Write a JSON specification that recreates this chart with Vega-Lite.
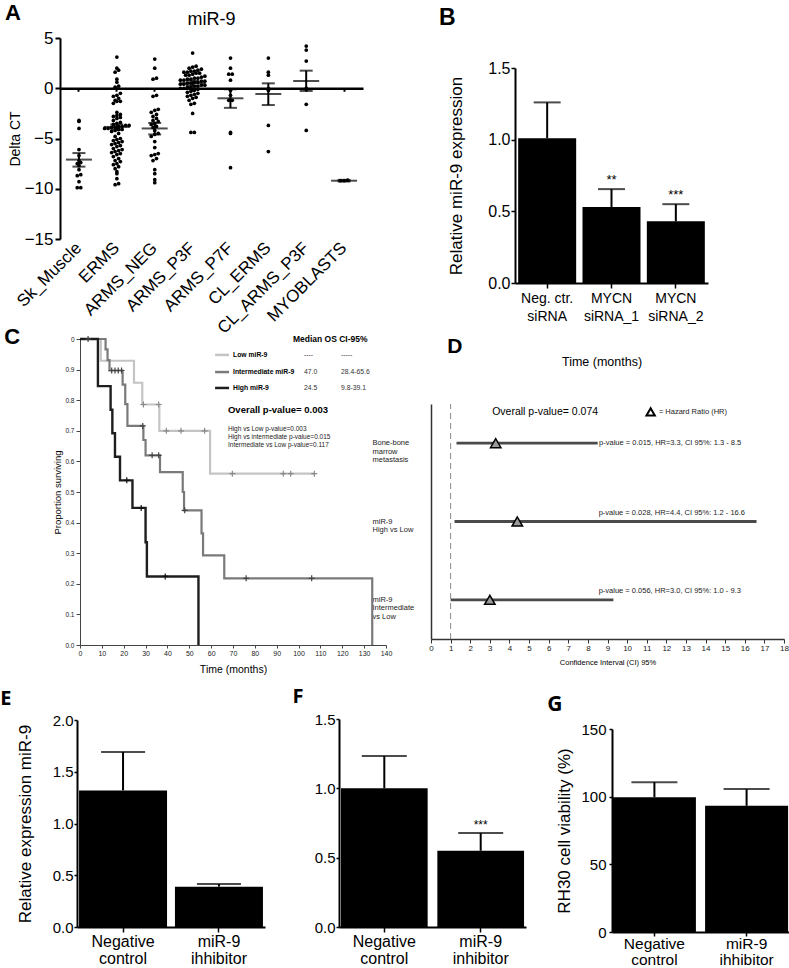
{
"$schema":"https://vega.github.io/schema/vega-lite/v6.json",
"width":789,"height":968,"autosize":{"type":"none"},"padding":0,"background":"white",
"config":{"view":{"stroke":null},"font":"Liberation Sans",
 "axis":{"grid":false,"domainColor":"black","tickColor":"black","labelColor":"black","titleColor":"black","labelFont":"Liberation Sans","titleFont":"Liberation Sans","titleFontWeight":"normal","labelOverlap":false,"labelFlush":false},
 "text":{"font":"Liberation Sans","color":"black"}},
"resolve":{"scale":{"x":"independent","y":"independent","color":"independent"},"axis":{"x":"independent","y":"independent"}},
"datasets":{
 "pointsA":[
  {"g":"Sk_Muscle","v":-3.2},{"g":"Sk_Muscle","v":-3.3},{"g":"Sk_Muscle","v":-4.0},{"g":"Sk_Muscle","v":-6.1},{"g":"Sk_Muscle","v":-6.7},{"g":"Sk_Muscle","v":-7.2},{"g":"Sk_Muscle","v":-7.4},{"g":"Sk_Muscle","v":-7.5},{"g":"Sk_Muscle","v":-7.7},{"g":"Sk_Muscle","v":-8.1},{"g":"Sk_Muscle","v":-8.6},{"g":"Sk_Muscle","v":-8.7},{"g":"Sk_Muscle","v":-9.3},{"g":"Sk_Muscle","v":-9.9},{"g":"Sk_Muscle","v":-9.9},
  {"g":"ERMS","v":3.1},{"g":"ERMS","v":2.0},{"g":"ERMS","v":1.8},{"g":"ERMS","v":1.6},{"g":"ERMS","v":0.9},{"g":"ERMS","v":0.6},{"g":"ERMS","v":0.2},{"g":"ERMS","v":0.1},{"g":"ERMS","v":-0.5},{"g":"ERMS","v":-0.7},{"g":"ERMS","v":-0.8},{"g":"ERMS","v":-1.0},{"g":"ERMS","v":-1.2},{"g":"ERMS","v":-1.3},{"g":"ERMS","v":-1.3},{"g":"ERMS","v":-1.5},{"g":"ERMS","v":-2.4},{"g":"ERMS","v":-2.6},{"g":"ERMS","v":-2.7},{"g":"ERMS","v":-2.8},{"g":"ERMS","v":-2.9},{"g":"ERMS","v":-3.0},{"g":"ERMS","v":-3.2},{"g":"ERMS","v":-3.4},{"g":"ERMS","v":-3.5},{"g":"ERMS","v":-3.6},{"g":"ERMS","v":-3.7},{"g":"ERMS","v":-3.7},{"g":"ERMS","v":-3.8},{"g":"ERMS","v":-3.8},{"g":"ERMS","v":-3.9},{"g":"ERMS","v":-3.9},{"g":"ERMS","v":-4.0},{"g":"ERMS","v":-4.0},{"g":"ERMS","v":-4.1},{"g":"ERMS","v":-4.1},{"g":"ERMS","v":-4.2},{"g":"ERMS","v":-4.3},{"g":"ERMS","v":-4.5},{"g":"ERMS","v":-4.8},{"g":"ERMS","v":-5.0},{"g":"ERMS","v":-5.1},{"g":"ERMS","v":-5.2},{"g":"ERMS","v":-5.3},{"g":"ERMS","v":-5.4},{"g":"ERMS","v":-5.5},{"g":"ERMS","v":-5.6},{"g":"ERMS","v":-5.7},{"g":"ERMS","v":-5.8},{"g":"ERMS","v":-6.0},{"g":"ERMS","v":-6.1},{"g":"ERMS","v":-6.2},{"g":"ERMS","v":-6.3},{"g":"ERMS","v":-6.4},{"g":"ERMS","v":-6.5},{"g":"ERMS","v":-6.6},{"g":"ERMS","v":-6.8},{"g":"ERMS","v":-7.0},{"g":"ERMS","v":-7.2},{"g":"ERMS","v":-7.3},{"g":"ERMS","v":-7.5},{"g":"ERMS","v":-7.6},{"g":"ERMS","v":-7.8},{"g":"ERMS","v":-8.0},{"g":"ERMS","v":-8.3},{"g":"ERMS","v":-8.5},{"g":"ERMS","v":-9.0},{"g":"ERMS","v":-9.5},{"g":"ERMS","v":-9.6},
  {"g":"ARMS_NEG","v":2.9},{"g":"ARMS_NEG","v":2.0},{"g":"ARMS_NEG","v":1.0},{"g":"ARMS_NEG","v":0.9},{"g":"ARMS_NEG","v":-0.7},{"g":"ARMS_NEG","v":-0.8},{"g":"ARMS_NEG","v":-2.1},{"g":"ARMS_NEG","v":-2.2},{"g":"ARMS_NEG","v":-2.4},{"g":"ARMS_NEG","v":-2.6},{"g":"ARMS_NEG","v":-2.8},{"g":"ARMS_NEG","v":-3.0},{"g":"ARMS_NEG","v":-3.2},{"g":"ARMS_NEG","v":-3.3},{"g":"ARMS_NEG","v":-3.5},{"g":"ARMS_NEG","v":-3.6},{"g":"ARMS_NEG","v":-3.8},{"g":"ARMS_NEG","v":-3.9},{"g":"ARMS_NEG","v":-4.2},{"g":"ARMS_NEG","v":-4.5},{"g":"ARMS_NEG","v":-4.6},{"g":"ARMS_NEG","v":-4.8},{"g":"ARMS_NEG","v":-5.3},{"g":"ARMS_NEG","v":-5.9},{"g":"ARMS_NEG","v":-6.5},{"g":"ARMS_NEG","v":-6.6},{"g":"ARMS_NEG","v":-6.7},{"g":"ARMS_NEG","v":-7.0},{"g":"ARMS_NEG","v":-7.2},{"g":"ARMS_NEG","v":-8.1},{"g":"ARMS_NEG","v":-8.5},{"g":"ARMS_NEG","v":-9.1},{"g":"ARMS_NEG","v":-9.4},
  {"g":"ARMS_P3F","v":3.5},{"g":"ARMS_P3F","v":2.2},{"g":"ARMS_P3F","v":2.1},{"g":"ARMS_P3F","v":2.0},{"g":"ARMS_P3F","v":1.9},{"g":"ARMS_P3F","v":1.8},{"g":"ARMS_P3F","v":1.7},{"g":"ARMS_P3F","v":1.7},{"g":"ARMS_P3F","v":1.6},{"g":"ARMS_P3F","v":1.6},{"g":"ARMS_P3F","v":1.5},{"g":"ARMS_P3F","v":1.5},{"g":"ARMS_P3F","v":1.4},{"g":"ARMS_P3F","v":1.3},{"g":"ARMS_P3F","v":1.3},{"g":"ARMS_P3F","v":1.2},{"g":"ARMS_P3F","v":1.1},{"g":"ARMS_P3F","v":1.0},{"g":"ARMS_P3F","v":1.0},{"g":"ARMS_P3F","v":0.9},{"g":"ARMS_P3F","v":0.9},{"g":"ARMS_P3F","v":0.8},{"g":"ARMS_P3F","v":0.8},{"g":"ARMS_P3F","v":0.7},{"g":"ARMS_P3F","v":0.7},{"g":"ARMS_P3F","v":0.6},{"g":"ARMS_P3F","v":0.6},{"g":"ARMS_P3F","v":0.5},{"g":"ARMS_P3F","v":0.5},{"g":"ARMS_P3F","v":0.4},{"g":"ARMS_P3F","v":0.4},{"g":"ARMS_P3F","v":0.3},{"g":"ARMS_P3F","v":0.3},{"g":"ARMS_P3F","v":0.2},{"g":"ARMS_P3F","v":0.2},{"g":"ARMS_P3F","v":0.1},{"g":"ARMS_P3F","v":0.1},{"g":"ARMS_P3F","v":0.0},{"g":"ARMS_P3F","v":0.0},{"g":"ARMS_P3F","v":-0.1},{"g":"ARMS_P3F","v":-0.2},{"g":"ARMS_P3F","v":-0.3},{"g":"ARMS_P3F","v":-0.4},{"g":"ARMS_P3F","v":-0.5},{"g":"ARMS_P3F","v":-0.6},{"g":"ARMS_P3F","v":-0.7},{"g":"ARMS_P3F","v":-0.8},{"g":"ARMS_P3F","v":-0.9},{"g":"ARMS_P3F","v":-1.0},{"g":"ARMS_P3F","v":-1.2},{"g":"ARMS_P3F","v":-1.5},{"g":"ARMS_P3F","v":-1.6},{"g":"ARMS_P3F","v":-2.5},{"g":"ARMS_P3F","v":-4.4},{"g":"ARMS_P3F","v":-4.4},
  {"g":"ARMS_P7F","v":3.0},{"g":"ARMS_P7F","v":2.0},{"g":"ARMS_P7F","v":1.4},{"g":"ARMS_P7F","v":1.4},{"g":"ARMS_P7F","v":0.8},{"g":"ARMS_P7F","v":-0.2},{"g":"ARMS_P7F","v":-0.7},{"g":"ARMS_P7F","v":-1.2},{"g":"ARMS_P7F","v":-1.2},{"g":"ARMS_P7F","v":-4.4},{"g":"ARMS_P7F","v":-4.5},{"g":"ARMS_P7F","v":-7.9},
  {"g":"CL_ERMS","v":3.0},{"g":"CL_ERMS","v":1.6},{"g":"CL_ERMS","v":1.3},{"g":"CL_ERMS","v":0.0},{"g":"CL_ERMS","v":-0.2},{"g":"CL_ERMS","v":-3.7},{"g":"CL_ERMS","v":-6.3},
  {"g":"CL_ARMS_P3F","v":4.2},{"g":"CL_ARMS_P3F","v":3.8},{"g":"CL_ARMS_P3F","v":2.7},{"g":"CL_ARMS_P3F","v":0.0},{"g":"CL_ARMS_P3F","v":-0.1},{"g":"CL_ARMS_P3F","v":-1.6},{"g":"CL_ARMS_P3F","v":-4.2},
  {"g":"MYOBLASTS","v":-9.2},{"g":"MYOBLASTS","v":-9.2},{"g":"MYOBLASTS","v":-9.15}
 ],
 "summA":[
  {"g":"Sk_Muscle","m":-7.1,"lo":-7.8,"hi":-6.45},
  {"g":"ERMS","m":-3.85,"lo":-4.1,"hi":-3.6},
  {"g":"ARMS_NEG","m":-4.0,"lo":-4.6,"hi":-3.45},
  {"g":"ARMS_P3F","m":0.5,"lo":0.25,"hi":0.75},
  {"g":"ARMS_P7F","m":-1.0,"lo":-1.95,"hi":-0.1},
  {"g":"CL_ERMS","m":-0.57,"lo":-1.67,"hi":0.49},
  {"g":"CL_ARMS_P3F","m":0.72,"lo":-0.27,"hi":1.75},
  {"g":"MYOBLASTS","m":-9.2,"lo":-9.28,"hi":-9.12}
 ],
 "barsB":[
  {"g":"Neg. ctr.|siRNA","v":1.01,"e":1.26,"s":""},
  {"g":"MYCN|siRNA_1","v":0.53,"e":0.655,"s":"**"},
  {"g":"MYCN|siRNA_2","v":0.43,"e":0.55,"s":"***"}
 ],
 "km":[
  {"grp":"Low","t":0,"s":1},{"grp":"Low","t":9.5,"s":0.929},{"grp":"Low","t":24.7,"s":0.857},{"grp":"Low","t":28.5,"s":0.786},{"grp":"Low","t":36.3,"s":0.7},{"grp":"Low","t":59.5,"s":0.56},{"grp":"Low","t":107.2,"s":0.56},
  {"grp":"Intermediate","t":0,"s":1},{"grp":"Intermediate","t":11.7,"s":0.966},{"grp":"Intermediate","t":12.6,"s":0.931},{"grp":"Intermediate","t":13.5,"s":0.897},{"grp":"Intermediate","t":19.5,"s":0.851},{"grp":"Intermediate","t":20.7,"s":0.787},{"grp":"Intermediate","t":21.7,"s":0.716},{"grp":"Intermediate","t":29,"s":0.67},{"grp":"Intermediate","t":30,"s":0.62},{"grp":"Intermediate","t":36.6,"s":0.565},{"grp":"Intermediate","t":47,"s":0.5},{"grp":"Intermediate","t":47.6,"s":0.44},{"grp":"Intermediate","t":55.6,"s":0.365},{"grp":"Intermediate","t":56.3,"s":0.293},{"grp":"Intermediate","t":66,"s":0.218},{"grp":"Intermediate","t":133.7,"s":0},
  {"grp":"High","t":0,"s":1},{"grp":"High","t":8.2,"s":0.846},{"grp":"High","t":14,"s":0.769},{"grp":"High","t":14.8,"s":0.692},{"grp":"High","t":16,"s":0.615},{"grp":"High","t":18.3,"s":0.538},{"grp":"High","t":24,"s":0.448},{"grp":"High","t":30,"s":0.336},{"grp":"High","t":30.6,"s":0.224},{"grp":"High","t":54.2,"s":0}
 ],
 "cens":[
  {"grp":"Low","t":29,"s":0.786},{"grp":"Low","t":36,"s":0.786},{"grp":"Low","t":39.5,"s":0.7},{"grp":"Low","t":46.2,"s":0.7},{"grp":"Low","t":57,"s":0.7},{"grp":"Low","t":69.7,"s":0.56},{"grp":"Low","t":93,"s":0.56},{"grp":"Low","t":96.4,"s":0.56},{"grp":"Low","t":107.2,"s":0.56},
  {"grp":"Intermediate","t":3.7,"s":1},{"grp":"Intermediate","t":14.5,"s":0.897},{"grp":"Intermediate","t":16,"s":0.897},{"grp":"Intermediate","t":17.5,"s":0.897},{"grp":"Intermediate","t":19,"s":0.897},{"grp":"Intermediate","t":28.7,"s":0.716},{"grp":"Intermediate","t":33,"s":0.62},{"grp":"Intermediate","t":36,"s":0.62},{"grp":"Intermediate","t":47.9,"s":0.44},{"grp":"Intermediate","t":76,"s":0.218},{"grp":"Intermediate","t":106,"s":0.218},
  {"grp":"High","t":21.4,"s":0.538},{"grp":"High","t":28,"s":0.448},{"grp":"High","t":39,"s":0.224}
 ],
 "legC":[
  {"grp":"Low","lab":"Low miR-9","med":"----","ci":"-----","t1":61.8,"t2":68.2,"s":0.948},
  {"grp":"Intermediate","lab":"Intermediate miR-9","med":"47.0","ci":"28.4-65.6","t1":61.8,"t2":68.2,"s":0.892},
  {"grp":"High","lab":"High miR-9","med":"24.5","ci":"9.8-39.1","t1":61.8,"t2":68.2,"s":0.84}
 ],
 "pC":[
  {"txt":"High vs Low p-value=0.003","s":0.706},
  {"txt":"High vs intermediate p-value=0.015","s":0.68},
  {"txt":"Intermediate vs Low p-value=0.117","s":0.654}
 ],
 "forest":[
  {"row":"Bone-bone|marrow|metastasis","lo":1.3,"hi":8.5,"hr":3.3,"txt":"p-value = 0.015, HR=3.3, CI 95%: 1.3 - 8.5"},
  {"row":"miR-9|High vs Low","lo":1.2,"hi":16.6,"hr":4.4,"txt":"p-value = 0.028, HR=4.4, CI 95%: 1.2 - 16.6"},
  {"row":"miR-9|Intermediate|vs Low","lo":1.0,"hi":9.3,"hr":3.0,"txt":"p-value = 0.056, HR=3.0, CI 95%: 1.0 - 9.3"}
 ],
 "barsE":[{"g":"Negative|control","v":1.32,"e":1.69},{"g":"miR-9|ihhibitor","v":0.39,"e":0.415}],
 "barsF":[{"g":"Negative|control","v":1.0,"e":1.234,"s":""},{"g":"miR-9|inhibitor","v":0.55,"e":0.677,"s":"***"}],
 "barsG":[{"g":"Negative|control","v":99.6,"e":110.7},{"g":"miR-9|ihhibitor","v":93.2,"e":105.6}]
},
"layer":[
 {"data":{"name":"pointsA"},
  "transform":[{"calculate":"floor(datum.v/0.4)","as":"b"},{"window":[{"op":"row_number","as":"r"}],"groupby":["g","b"],"sort":[{"field":"v","order":"ascending"}]},{"joinaggregate":[{"op":"count","as":"n"}],"groupby":["g","b"]},{"calculate":"datum.r-(datum.n+1)/2","as":"off"}],
  "mark":{"type":"circle","size":14,"color":"black","opacity":1},
  "encoding":{
   "x":{"field":"g","type":"nominal","scale":{"type":"band","domain":["Sk_Muscle","ERMS","ARMS_NEG","ARMS_P3F","ARMS_P7F","CL_ERMS","CL_ARMS_P3F","MYOBLASTS"],"range":[60,363],"paddingInner":0,"paddingOuter":0},
        "axis":{"orient":"bottom","offset":-729,"domain":false,"ticks":false,"labelAngle":-45,"labelAlign":"right","labelBaseline":"middle","labelFontSize":17,"labelPadding":6,"title":null}},
   "xOffset":{"field":"off","type":"quantitative","scale":{"domain":[-6,6],"range":[-2,40]}},
   "y":{"field":"v","type":"quantitative","scale":{"domain":[-15,5],"range":[239,38],"nice":false,"zero":false},
        "axis":{"orient":"left","offset":-60,"values":[5,0,-5,-10,-15],"labelFontSize":17,"tickSize":5,"tickWidth":2,"domainWidth":2,"labelPadding":2,"title":"Delta CT","titleFontSize":14,"titlePadding":2}}}},
 {"data":{"name":"summA"},
  "mark":{"type":"rule","strokeWidth":2,"color":"black"},
  "encoding":{
   "x":{"field":"g","type":"nominal","scale":{"type":"band","domain":["Sk_Muscle","ERMS","ARMS_NEG","ARMS_P3F","ARMS_P7F","CL_ERMS","CL_ARMS_P3F","MYOBLASTS"],"range":[60,363],"paddingInner":0,"paddingOuter":0},"axis":null},
   "y":{"field":"lo","type":"quantitative","scale":{"domain":[-15,5],"range":[239,38],"nice":false,"zero":false},"axis":null},
   "y2":{"field":"hi"}}},
 {"data":{"name":"summA"},
  "transform":[{"fold":["lo","hi"],"as":["k","cv"]}],
  "mark":{"type":"tick","size":13,"thickness":2,"color":"black"},
  "encoding":{
   "x":{"field":"g","type":"nominal","scale":{"type":"band","domain":["Sk_Muscle","ERMS","ARMS_NEG","ARMS_P3F","ARMS_P7F","CL_ERMS","CL_ARMS_P3F","MYOBLASTS"],"range":[60,363],"paddingInner":0,"paddingOuter":0},"axis":null},
   "y":{"field":"cv","type":"quantitative","scale":{"domain":[-15,5],"range":[239,38],"nice":false,"zero":false},"axis":null}}},
 {"data":{"name":"summA"},
  "mark":{"type":"tick","size":26,"thickness":2,"color":"black"},
  "encoding":{
   "x":{"field":"g","type":"nominal","scale":{"type":"band","domain":["Sk_Muscle","ERMS","ARMS_NEG","ARMS_P3F","ARMS_P7F","CL_ERMS","CL_ARMS_P3F","MYOBLASTS"],"range":[60,363],"paddingInner":0,"paddingOuter":0},
        "axis":{"orient":"bottom","offset":-879.75,"domain":true,"domainWidth":2.5,"ticks":true,"tickSize":3,"tickWidth":2,"labels":false,"title":null}},
   "y":{"field":"m","type":"quantitative","scale":{"domain":[-15,5],"range":[239,38],"nice":false,"zero":false},"axis":null}}},
 {"data":{"values":[{"t":"miR-9"}]},
  "mark":{"type":"text","fontSize":18,"align":"center","baseline":"middle"},
  "encoding":{
   "x":{"datum":"ARMS_P3F","type":"nominal","bandPosition":1,"scale":{"type":"band","domain":["Sk_Muscle","ERMS","ARMS_NEG","ARMS_P3F","ARMS_P7F","CL_ERMS","CL_ARMS_P3F","MYOBLASTS"],"range":[60,363],"paddingInner":0,"paddingOuter":0},"axis":null},
   "y":{"datum":6.8,"type":"quantitative","scale":{"domain":[-15,5],"range":[239,38],"nice":false,"zero":false},"axis":null},
   "text":{"field":"t"}}},
 {"data":{"values":[{"l":"A"}]},
  "mark":{"type":"text","fontSize":22,"fontWeight":"bold","align":"center","baseline":"middle","dx":-47},
  "encoding":{
   "x":{"datum":"Sk_Muscle","type":"nominal","bandPosition":0,"scale":{"type":"band","domain":["Sk_Muscle","ERMS","ARMS_NEG","ARMS_P3F","ARMS_P7F","CL_ERMS","CL_ARMS_P3F","MYOBLASTS"],"range":[60,363],"paddingInner":0,"paddingOuter":0},"axis":null},
   "y":{"datum":7.5,"type":"quantitative","scale":{"domain":[-15,5],"range":[239,38],"nice":false,"zero":false},"axis":null},
   "text":{"field":"l"}}},

 {"data":{"name":"barsB"},
  "mark":{"type":"bar","color":"black","width":58},
  "encoding":{
   "x":{"field":"g","type":"nominal","scale":{"type":"band","domain":["Neg. ctr.|siRNA","MYCN|siRNA_1","MYCN|siRNA_2"],"range":[515,708],"paddingInner":0.1,"paddingOuter":0.05},
        "axis":{"orient":"bottom","offset":-685,"labelAngle":0,"labelExpr":"split(datum.label,'|')","labelFontSize":14,"labelLineHeight":18,"labelPadding":3,"labelBaseline":"top","tickSize":5,"tickWidth":1.5,"domainWidth":2,"title":null}},
   "y":{"field":"v","type":"quantitative","scale":{"domain":[0,1.5],"range":[283,68],"nice":false},
        "axis":{"orient":"left","offset":-515,"values":[0,0.5,1,1.5],"format":".1f","labelFontSize":16,"tickSize":4,"tickWidth":1.5,"domainWidth":2,"labelPadding":1,"title":"Relative miR-9 expression","titleFontSize":17,"titlePadding":22}}}},
 {"data":{"name":"barsB"},
  "mark":{"type":"rule","strokeWidth":2,"color":"black"},
  "encoding":{
   "x":{"field":"g","type":"nominal","scale":{"type":"band","domain":["Neg. ctr.|siRNA","MYCN|siRNA_1","MYCN|siRNA_2"],"range":[515,708],"paddingInner":0.1,"paddingOuter":0.05},"axis":null},
   "y":{"field":"v","type":"quantitative","scale":{"domain":[0,1.5],"range":[283,68],"nice":false},"axis":null},
   "y2":{"field":"e"}}},
 {"data":{"name":"barsB"},
  "mark":{"type":"tick","size":27,"thickness":2,"color":"black"},
  "encoding":{
   "x":{"field":"g","type":"nominal","scale":{"type":"band","domain":["Neg. ctr.|siRNA","MYCN|siRNA_1","MYCN|siRNA_2"],"range":[515,708],"paddingInner":0.1,"paddingOuter":0.05},"axis":null},
   "y":{"field":"e","type":"quantitative","scale":{"domain":[0,1.5],"range":[283,68],"nice":false},"axis":null}}},
 {"data":{"name":"barsB"},
  "mark":{"type":"text","fontSize":13,"align":"center","baseline":"bottom","dy":-2},
  "encoding":{
   "x":{"field":"g","type":"nominal","scale":{"type":"band","domain":["Neg. ctr.|siRNA","MYCN|siRNA_1","MYCN|siRNA_2"],"range":[515,708],"paddingInner":0.1,"paddingOuter":0.05},"axis":null},
   "y":{"field":"e","type":"quantitative","scale":{"domain":[0,1.5],"range":[283,68],"nice":false},"axis":null},
   "text":{"field":"s"}}},
 {"data":{"values":[{"l":"B"}]},
  "mark":{"type":"text","fontSize":23,"fontWeight":"bold","align":"center","baseline":"middle","dx":-71},
  "encoding":{
   "x":{"datum":"Neg. ctr.|siRNA","type":"nominal","bandPosition":0,"scale":{"type":"band","domain":["Neg. ctr.|siRNA","MYCN|siRNA_1","MYCN|siRNA_2"],"range":[515,708],"paddingInner":0.1,"paddingOuter":0.05},"axis":null},
   "y":{"datum":1.85,"type":"quantitative","scale":{"domain":[0,1.5],"range":[283,68],"nice":false},"axis":null},
   "text":{"field":"l"}}},

 {"data":{"name":"km"},"transform":[{"filter":"datum.grp=='Low'"}],
  "mark":{"type":"line","interpolate":"step-after","strokeWidth":2.2,"color":"#c4c4c4"},
  "encoding":{
   "x":{"field":"t","type":"quantitative","scale":{"domain":[0,140],"range":[80,386],"nice":false,"zero":false},
        "axis":{"orient":"bottom","offset":-323,"values":[0,10,20,30,40,50,60,70,80,90,100,110,120,130,140],"labelFontSize":7,"tickSize":3,"labelPadding":1,"domainColor":"#444","tickColor":"#444","labelColor":"#222","title":"Time (months)","titleFontSize":10.5,"titlePadding":8}},
   "y":{"field":"s","type":"quantitative","scale":{"domain":[0,1],"range":[645,339],"nice":false},
        "axis":{"orient":"left","offset":-80,"values":[0,0.1,0.2,0.3,0.4,0.5,0.6,0.7,0.8,0.9,1],"labelExpr":"datum.value == 1 ? '0' : format(datum.value, '.1f')","labelFontSize":6.5,"tickSize":4,"labelPadding":2,"domainColor":"#444","tickColor":"#444","labelColor":"#222","title":"Proportion surviving","titleFontSize":9.5,"titlePadding":2}},
   "order":{"field":"t","type":"quantitative"}}},
 {"data":{"name":"km"},"transform":[{"filter":"datum.grp=='Intermediate'"}],
  "mark":{"type":"line","interpolate":"step-after","strokeWidth":2.2,"color":"#7a7a7a"},
  "encoding":{
   "x":{"field":"t","type":"quantitative","scale":{"domain":[0,140],"range":[80,386],"nice":false,"zero":false},"axis":null},
   "y":{"field":"s","type":"quantitative","scale":{"domain":[0,1],"range":[645,339],"nice":false},"axis":null},
   "order":{"field":"t","type":"quantitative"}}},
 {"data":{"name":"km"},"transform":[{"filter":"datum.grp=='High'"}],
  "mark":{"type":"line","interpolate":"step-after","strokeWidth":2.4,"color":"#1e1e1e"},
  "encoding":{
   "x":{"field":"t","type":"quantitative","scale":{"domain":[0,140],"range":[80,386],"nice":false,"zero":false},"axis":null},
   "y":{"field":"s","type":"quantitative","scale":{"domain":[0,1],"range":[645,339],"nice":false},"axis":null},
   "order":{"field":"t","type":"quantitative"}}},
 {"data":{"name":"cens"},
  "mark":{"type":"point","shape":"M-1,0L1,0M0,-1L0,1","size":36,"strokeWidth":1.2,"filled":false,"opacity":1},
  "encoding":{
   "x":{"field":"t","type":"quantitative","scale":{"domain":[0,140],"range":[80,386],"nice":false,"zero":false},"axis":null},
   "y":{"field":"s","type":"quantitative","scale":{"domain":[0,1],"range":[645,339],"nice":false},"axis":null},
   "color":{"field":"grp","type":"nominal","scale":{"domain":["Low","Intermediate","High"],"range":["#8a8a8a","#444444","#111111"]},"legend":null}}},
 {"data":{"name":"legC"},
  "mark":{"type":"rule","strokeWidth":2.5},
  "encoding":{
   "x":{"field":"t1","type":"quantitative","scale":{"domain":[0,140],"range":[80,386],"nice":false,"zero":false},"axis":null},
   "x2":{"field":"t2"},
   "y":{"field":"s","type":"quantitative","scale":{"domain":[0,1],"range":[645,339],"nice":false},"axis":null},
   "color":{"field":"grp","type":"nominal","scale":{"domain":["Low","Intermediate","High"],"range":["#c4c4c4","#7a7a7a","#1e1e1e"]},"legend":null}}},
 {"data":{"name":"legC"},
  "mark":{"type":"text","fontSize":6.8,"fontWeight":"bold","align":"left","baseline":"middle"},
  "encoding":{
   "x":{"datum":70,"type":"quantitative","scale":{"domain":[0,140],"range":[80,386],"nice":false,"zero":false},"axis":null},
   "y":{"field":"s","type":"quantitative","scale":{"domain":[0,1],"range":[645,339],"nice":false},"axis":null},
   "text":{"field":"lab"}}},
 {"data":{"name":"legC"},
  "mark":{"type":"text","fontSize":6.8,"align":"left","baseline":"middle","color":"#333"},
  "encoding":{
   "x":{"datum":102.5,"type":"quantitative","scale":{"domain":[0,140],"range":[80,386],"nice":false,"zero":false},"axis":null},
   "y":{"field":"s","type":"quantitative","scale":{"domain":[0,1],"range":[645,339],"nice":false},"axis":null},
   "text":{"field":"med"}}},
 {"data":{"name":"legC"},
  "mark":{"type":"text","fontSize":6.8,"align":"left","baseline":"middle","color":"#333"},
  "encoding":{
   "x":{"datum":119.4,"type":"quantitative","scale":{"domain":[0,140],"range":[80,386],"nice":false,"zero":false},"axis":null},
   "y":{"field":"s","type":"quantitative","scale":{"domain":[0,1],"range":[645,339],"nice":false},"axis":null},
   "text":{"field":"ci"}}},
 {"data":{"values":[{"txt":"Median OS  CI-95%"}]},
  "mark":{"type":"text","fontSize":8.5,"fontWeight":"bold","align":"left","baseline":"middle"},
  "encoding":{
   "x":{"datum":97.4,"type":"quantitative","scale":{"domain":[0,140],"range":[80,386],"nice":false,"zero":false},"axis":null},
   "y":{"datum":1.0,"type":"quantitative","scale":{"domain":[0,1],"range":[645,339],"nice":false},"axis":null},
   "text":{"field":"txt"}}},
 {"data":{"values":[{"txt":"Overall p-value= 0.003"}]},
  "mark":{"type":"text","fontSize":9.5,"fontWeight":"bold","align":"left","baseline":"middle"},
  "encoding":{
   "x":{"datum":67.7,"type":"quantitative","scale":{"domain":[0,140],"range":[80,386],"nice":false,"zero":false},"axis":null},
   "y":{"datum":0.768,"type":"quantitative","scale":{"domain":[0,1],"range":[645,339],"nice":false},"axis":null},
   "text":{"field":"txt"}}},
 {"data":{"name":"pC"},
  "mark":{"type":"text","fontSize":6.5,"align":"left","baseline":"middle","color":"#222"},
  "encoding":{
   "x":{"datum":67.7,"type":"quantitative","scale":{"domain":[0,140],"range":[80,386],"nice":false,"zero":false},"axis":null},
   "y":{"field":"s","type":"quantitative","scale":{"domain":[0,1],"range":[645,339],"nice":false},"axis":null},
   "text":{"field":"txt"}}},
 {"data":{"values":[{"l":"C"}]},
  "mark":{"type":"text","fontSize":22,"fontWeight":"bold","align":"center","baseline":"middle"},
  "encoding":{
   "x":{"datum":-31,"type":"quantitative","scale":{"domain":[0,140],"range":[80,386],"nice":false,"zero":false},"axis":null},
   "y":{"datum":1.006,"type":"quantitative","scale":{"domain":[0,1],"range":[645,339],"nice":false},"axis":null},
   "text":{"field":"l"}}},

 {"data":{"name":"forest"},
  "mark":{"type":"rule","strokeWidth":2.8,"color":"#4a4a4a"},
  "encoding":{
   "x":{"field":"lo","type":"quantitative","scale":{"domain":[0,18],"range":[431,784],"nice":false},
        "axis":{"orient":"bottom","offset":-329,"values":[0,1,2,3,4,5,6,7,8,9,10,11,12,13,14,15,16,17,18],"labelFontSize":8,"tickSize":4,"labelPadding":1,"domainWidth":1.5,"domainColor":"#333","tickColor":"#333","labelColor":"#222","title":"Confidence Interval (CI) 95%","titleFontSize":7.5,"titlePadding":6}},
   "x2":{"field":"hi"},
   "y":{"field":"row","type":"nominal","scale":{"type":"band","domain":["Bone-bone|marrow|metastasis","miR-9|High vs Low","miR-9|Intermediate|vs Low"],"range":[404,639],"paddingInner":0,"paddingOuter":0},
        "axis":{"orient":"left","offset":-431,"ticks":false,"tickSize":0,"labelPadding":59,"labelAlign":"left","labelBaseline":"middle","labelExpr":"split(datum.label,'|')","labelFontSize":7.5,"labelLineHeight":8.5,"labelColor":"#222","domainWidth":1.5,"domainColor":"#333","title":null}}}},
 {"data":{"values":[{"k":1}]},
  "mark":{"type":"rule","strokeWidth":1,"color":"#888","strokeDash":[6,4]},
  "encoding":{
   "x":{"datum":1,"type":"quantitative","scale":{"domain":[0,18],"range":[431,784],"nice":false},"axis":null},
   "y":{"datum":0,"type":"quantitative","scale":{"domain":[0,1],"range":[639,404],"nice":false},"axis":null},
   "y2":{"datum":1}}},
 {"data":{"name":"forest"},
  "mark":{"type":"point","shape":"triangle-up","size":110,"filled":true,"fill":"#9a9a9a","stroke":"black","strokeWidth":1.5,"opacity":1},
  "encoding":{
   "x":{"field":"hr","type":"quantitative","scale":{"domain":[0,18],"range":[431,784],"nice":false},"axis":null},
   "y":{"field":"row","type":"nominal","scale":{"type":"band","domain":["Bone-bone|marrow|metastasis","miR-9|High vs Low","miR-9|Intermediate|vs Low"],"range":[404,639],"paddingInner":0,"paddingOuter":0},"axis":null}}},
 {"data":{"name":"forest"},"transform":[{"filter":"datum.hr==3.3"}],
  "mark":{"type":"text","fontSize":7.5,"align":"left","baseline":"middle","color":"#222"},
  "encoding":{
   "x":{"datum":8.57,"type":"quantitative","scale":{"domain":[0,18],"range":[431,784],"nice":false},"axis":null},
   "y":{"field":"row","type":"nominal","scale":{"type":"band","domain":["Bone-bone|marrow|metastasis","miR-9|High vs Low","miR-9|Intermediate|vs Low"],"range":[404,639],"paddingInner":0,"paddingOuter":0},"axis":null},
   "text":{"field":"txt"}}},
 {"data":{"name":"forest"},"transform":[{"filter":"datum.hr!=3.3"}],
  "mark":{"type":"text","fontSize":7.5,"align":"left","baseline":"middle","color":"#222","dy":-8.5},
  "encoding":{
   "x":{"datum":8.55,"type":"quantitative","scale":{"domain":[0,18],"range":[431,784],"nice":false},"axis":null},
   "y":{"field":"row","type":"nominal","scale":{"type":"band","domain":["Bone-bone|marrow|metastasis","miR-9|High vs Low","miR-9|Intermediate|vs Low"],"range":[404,639],"paddingInner":0,"paddingOuter":0},"axis":null},
   "text":{"field":"txt"}}},
 {"data":{"values":[{"txt":"Overall p-value= 0.074"}]},
  "mark":{"type":"text","fontSize":10.5,"align":"center","baseline":"middle"},
  "encoding":{
   "x":{"datum":5.82,"type":"quantitative","scale":{"domain":[0,18],"range":[431,784],"nice":false},"axis":null},
   "y":{"datum":0.966,"type":"quantitative","scale":{"domain":[0,1],"range":[639,404],"nice":false},"axis":null},
   "text":{"field":"txt"}}},
 {"data":{"values":[{"k":1}]},
  "mark":{"type":"point","shape":"triangle-up","size":70,"filled":false,"stroke":"black","strokeWidth":2,"opacity":1},
  "encoding":{
   "x":{"datum":11.2,"type":"quantitative","scale":{"domain":[0,18],"range":[431,784],"nice":false},"axis":null},
   "y":{"datum":0.966,"type":"quantitative","scale":{"domain":[0,1],"range":[639,404],"nice":false},"axis":null}}},
 {"data":{"values":[{"txt":"= Hazard Ratio (HR)"}]},
  "mark":{"type":"text","fontSize":7.5,"align":"left","baseline":"middle","color":"#222"},
  "encoding":{
   "x":{"datum":11.62,"type":"quantitative","scale":{"domain":[0,18],"range":[431,784],"nice":false},"axis":null},
   "y":{"datum":0.966,"type":"quantitative","scale":{"domain":[0,1],"range":[639,404],"nice":false},"axis":null},
   "text":{"field":"txt"}}},
 {"data":{"values":[{"txt":"Time (months)"}]},
  "mark":{"type":"text","fontSize":12.5,"align":"center","baseline":"middle"},
  "encoding":{
   "x":{"datum":8.72,"type":"quantitative","scale":{"domain":[0,18],"range":[431,784],"nice":false},"axis":null},
   "y":{"datum":1.179,"type":"quantitative","scale":{"domain":[0,1],"range":[639,404],"nice":false},"axis":null},
   "text":{"field":"txt"}}},
 {"data":{"values":[{"l":"D"}]},
  "mark":{"type":"text","fontSize":21,"fontWeight":"bold","align":"center","baseline":"middle"},
  "encoding":{
   "x":{"datum":1.22,"type":"quantitative","scale":{"domain":[0,18],"range":[431,784],"nice":false},"axis":null},
   "y":{"datum":1.243,"type":"quantitative","scale":{"domain":[0,1],"range":[639,404],"nice":false},"axis":null},
   "text":{"field":"l"}}},

 {"data":{"name":"barsE"},
  "mark":{"type":"bar","color":"black","width":88},
  "encoding":{
   "x":{"field":"g","type":"nominal","scale":{"type":"band","domain":["Negative|control","miR-9|ihhibitor"],"range":[77,265],"paddingInner":0.08,"paddingOuter":0.02},
        "axis":{"orient":"bottom","offset":-41,"labelAngle":0,"labelExpr":"split(datum.label,'|')","labelFontSize":16,"labelLineHeight":17,"labelPadding":1,"labelBaseline":"top","tickSize":5,"tickWidth":1.5,"domainWidth":2,"title":null}},
   "y":{"field":"v","type":"quantitative","scale":{"domain":[0,2],"range":[927,720],"nice":false},
        "axis":{"orient":"left","offset":-77,"values":[0,0.5,1,1.5,2],"format":".1f","labelFontSize":15,"tickSize":3,"tickWidth":1.5,"domainWidth":2,"labelPadding":1,"title":"Relative expression miR-9","titleFontSize":17,"titlePadding":18}}}},
 {"data":{"name":"barsE"},
  "mark":{"type":"rule","strokeWidth":2,"color":"black"},
  "encoding":{
   "x":{"field":"g","type":"nominal","scale":{"type":"band","domain":["Negative|control","miR-9|ihhibitor"],"range":[77,265],"paddingInner":0.08,"paddingOuter":0.02},"axis":null},
   "y":{"field":"v","type":"quantitative","scale":{"domain":[0,2],"range":[927,720],"nice":false},"axis":null},
   "y2":{"field":"e"}}},
 {"data":{"name":"barsE"},
  "mark":{"type":"tick","size":44,"thickness":2,"color":"black"},
  "encoding":{
   "x":{"field":"g","type":"nominal","scale":{"type":"band","domain":["Negative|control","miR-9|ihhibitor"],"range":[77,265],"paddingInner":0.08,"paddingOuter":0.02},"axis":null},
   "y":{"field":"e","type":"quantitative","scale":{"domain":[0,2],"range":[927,720],"nice":false},"axis":null}}},
 {"data":{"values":[{"l":"E"}]},
  "mark":{"type":"text","fontSize":20,"fontWeight":"bold","font":"Open Sans","align":"center","baseline":"middle","dx":-73},
  "encoding":{
   "x":{"datum":"Negative|control","type":"nominal","bandPosition":0,"scale":{"type":"band","domain":["Negative|control","miR-9|ihhibitor"],"range":[77,265],"paddingInner":0.08,"paddingOuter":0.02},"axis":null},
   "y":{"datum":2.2,"type":"quantitative","scale":{"domain":[0,2],"range":[927,720],"nice":false},"axis":null},
   "text":{"field":"l"}}},

 {"data":{"name":"barsF"},
  "mark":{"type":"bar","color":"black","width":86.7},
  "encoding":{
   "x":{"field":"g","type":"nominal","scale":{"type":"band","domain":["Negative|control","miR-9|inhibitor"],"range":[339,526],"paddingInner":0.1,"paddingOuter":0.02},
        "axis":{"orient":"bottom","offset":-41,"labelAngle":0,"labelExpr":"split(datum.label,'|')","labelFontSize":16,"labelLineHeight":17,"labelPadding":1,"labelBaseline":"top","tickSize":5,"tickWidth":1.5,"domainWidth":2,"title":null}},
   "y":{"field":"v","type":"quantitative","scale":{"domain":[0,1.5],"range":[927,719],"nice":false},
        "axis":{"orient":"left","offset":-339,"values":[0,0.5,1,1.5],"format":".1f","labelFontSize":15,"tickSize":3,"tickWidth":1.5,"domainWidth":2,"labelPadding":1,"title":null}}}},
 {"data":{"name":"barsF"},
  "mark":{"type":"rule","strokeWidth":2,"color":"black"},
  "encoding":{
   "x":{"field":"g","type":"nominal","scale":{"type":"band","domain":["Negative|control","miR-9|inhibitor"],"range":[339,526],"paddingInner":0.1,"paddingOuter":0.02},"axis":null},
   "y":{"field":"v","type":"quantitative","scale":{"domain":[0,1.5],"range":[927,719],"nice":false},"axis":null},
   "y2":{"field":"e"}}},
 {"data":{"name":"barsF"},
  "mark":{"type":"tick","size":45,"thickness":2,"color":"black"},
  "encoding":{
   "x":{"field":"g","type":"nominal","scale":{"type":"band","domain":["Negative|control","miR-9|inhibitor"],"range":[339,526],"paddingInner":0.1,"paddingOuter":0.02},"axis":null},
   "y":{"field":"e","type":"quantitative","scale":{"domain":[0,1.5],"range":[927,719],"nice":false},"axis":null}}},
 {"data":{"name":"barsF"},
  "mark":{"type":"text","fontSize":12,"align":"center","baseline":"bottom","dy":-1},
  "encoding":{
   "x":{"field":"g","type":"nominal","scale":{"type":"band","domain":["Negative|control","miR-9|inhibitor"],"range":[339,526],"paddingInner":0.1,"paddingOuter":0.02},"axis":null},
   "y":{"field":"e","type":"quantitative","scale":{"domain":[0,1.5],"range":[927,719],"nice":false},"axis":null},
   "text":{"field":"s"}}},
 {"data":{"values":[{"l":"F"}]},
  "mark":{"type":"text","fontSize":20,"fontWeight":"bold","font":"Open Sans","align":"center","baseline":"middle","dx":-43},
  "encoding":{
   "x":{"datum":"Negative|control","type":"nominal","bandPosition":0,"scale":{"type":"band","domain":["Negative|control","miR-9|inhibitor"],"range":[339,526],"paddingInner":0.1,"paddingOuter":0.02},"axis":null},
   "y":{"datum":1.66,"type":"quantitative","scale":{"domain":[0,1.5],"range":[927,719],"nice":false},"axis":null},
   "text":{"field":"l"}}},

 {"data":{"name":"barsG"},
  "mark":{"type":"bar","color":"black","width":83},
  "encoding":{
   "x":{"field":"g","type":"nominal","scale":{"type":"band","domain":["Negative|control","miR-9|ihhibitor"],"range":[612,789],"paddingInner":0.1,"paddingOuter":0.01},
        "axis":{"orient":"bottom","offset":-36,"labelAngle":0,"labelExpr":"split(datum.label,'|')","labelFontSize":15.5,"labelLineHeight":16.5,"labelPadding":0,"labelBaseline":"top","tickSize":4,"tickWidth":1.5,"domainWidth":2,"title":null}},
   "y":{"field":"v","type":"quantitative","scale":{"domain":[0,150],"range":[932,729],"nice":false},
        "axis":{"orient":"left","offset":-612,"values":[0,50,100,150],"format":"d","labelFontSize":15,"tickSize":3,"tickWidth":1.5,"domainWidth":2,"labelPadding":3,"title":"RH30 cell viability (%)","titleFontSize":17,"titlePadding":7}}}},
 {"data":{"name":"barsG"},
  "mark":{"type":"rule","strokeWidth":2,"color":"black"},
  "encoding":{
   "x":{"field":"g","type":"nominal","scale":{"type":"band","domain":["Negative|control","miR-9|ihhibitor"],"range":[612,789],"paddingInner":0.1,"paddingOuter":0.01},"axis":null},
   "y":{"field":"v","type":"quantitative","scale":{"domain":[0,150],"range":[932,729],"nice":false},"axis":null},
   "y2":{"field":"e"}}},
 {"data":{"name":"barsG"},
  "mark":{"type":"tick","size":46,"thickness":2,"color":"black"},
  "encoding":{
   "x":{"field":"g","type":"nominal","scale":{"type":"band","domain":["Negative|control","miR-9|ihhibitor"],"range":[612,789],"paddingInner":0.1,"paddingOuter":0.01},"axis":null},
   "y":{"field":"e","type":"quantitative","scale":{"domain":[0,150],"range":[932,729],"nice":false},"axis":null}}},
 {"data":{"values":[{"l":"G"}]},
  "mark":{"type":"text","fontSize":21,"fontWeight":"bold","font":"Open Sans","align":"center","baseline":"middle","dx":-58},
  "encoding":{
   "x":{"datum":"Negative|control","type":"nominal","bandPosition":0,"scale":{"type":"band","domain":["Negative|control","miR-9|ihhibitor"],"range":[612,789],"paddingInner":0.1,"paddingOuter":0.01},"axis":null},
   "y":{"datum":168,"type":"quantitative","scale":{"domain":[0,150],"range":[932,729],"nice":false},"axis":null},
   "text":{"field":"l"}}}
]
}
